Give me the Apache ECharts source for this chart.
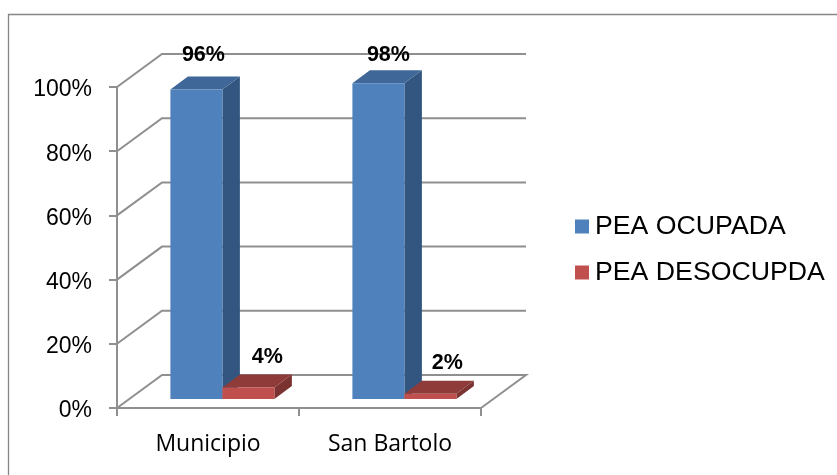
<!DOCTYPE html>
<html>
<head>
<meta charset="utf-8">
<style>html,body{margin:0;padding:0;background:#fff}#c{width:837px;height:475px}</style>
<script src="https://cdn.jsdelivr.net/npm/echarts@6/dist/echarts.min.js"></script>
</head>
<body>
<div id="c"></div>
<script>
const categories = ['Municipio', 'San Bartolo'];
const ocupada = [96.4, 98.4];
const desocupada = [3.6, 1.6];
const yTicks = [0, 20, 40, 60, 80, 100];

const WALL = { dx: 45, dy: -33 };
const BASE = { dx: 14.4, dy: -9 };
const DEPTH = { dx: 17.5, dy: -13 };
const BAR_W = 52;
const GRID_COLOR = '#8f8f8f';
const LABEL_NUDGE = { ocupada: [[7, -34.5], [10, -28]], desocupada: [[19, -30], [17, -31]] };

function wallItem(params, api) {
  const v = api.value(1);
  const p = api.coord([0, v]);
  const cs = params.coordSys;
  const x0 = cs.x, y = p[1];
  const bx = x0 + WALL.dx, by = y + WALL.dy;
  const farX = x0 + cs.width + WALL.dx;
  const style = { stroke: GRID_COLOR, fill: null, lineWidth: 2 };
  const pts = [[x0, y], [bx, by], [farX, by]];
  if (v === 0) pts.push([x0 + cs.width, y]);
  return { type: 'polyline', shape: { points: pts }, style };
}

function barRender(side, colors, key) {
  return function (params, api) {
    const i = api.value(0), v = api.value(1);
    const top = api.coord([i, v]);
    const bot = api.coord([i, 0]);
    const xl = top[0] + BASE.dx + (side === 0 ? -BAR_W : 0);
    const xr = xl + BAR_W;
    const yt = top[1] + BASE.dy;
    const yb = bot[1] + BASE.dy;
    const d = DEPTH;
    const n = LABEL_NUDGE[key][i];
    return {
      type: 'group',
      children: [
        { type: 'polygon', shape: { points: [[xr, yt], [xr + d.dx, yt + d.dy], [xr + d.dx, yb + d.dy], [xr, yb]] }, style: { fill: colors.side } },
        { type: 'polygon', shape: { points: [[xl, yt], [xr, yt], [xr + d.dx, yt + d.dy], [xl + d.dx, yt + d.dy]] }, style: { fill: colors.top } },
        { type: 'rect', shape: { x: xl, y: yt, width: BAR_W, height: yb - yt }, style: { fill: colors.front } },
        { type: 'text', z2: 50, style: {
            text: Math.round(v) + '%', x: (xl + xr) / 2 + n[0], y: yt + n[1],
            align: 'center', verticalAlign: 'middle', fill: '#000',
            font: 'bold 21.5px "Liberation Sans", Arial, sans-serif' } }
      ]
    };
  };
}

const chart = echarts.init(document.getElementById('c'), null, { renderer: 'canvas' });
chart.setOption({
  animation: false,
  backgroundColor: '#ffffff',
  grid: { left: 117, top: 87, width: 364, height: 321, containLabel: false },
  graphic: [{
    type: 'polyline', silent: true, z: -1,
    shape: { points: [[8.5, 475], [8.5, 14.5], [837, 14.5]] },
    style: { stroke: '#868686', fill: null, lineWidth: 1.3 }
  }],
  legend: {
    data: ['PEA OCUPADA', 'PEA DESOCUPDA'],
    orient: 'vertical', left: 575, top: 213, padding: 0,
    icon: 'rect', itemWidth: 14, itemHeight: 14, itemGap: 19,
    textStyle: { fontFamily: '"Liberation Sans", Arial, sans-serif', fontSize: 26.7, color: '#000', padding: [0, 0, 0, 1] }
  },
  xAxis: {
    type: 'category', data: categories,
    axisLine: { show: true, lineStyle: { color: GRID_COLOR, width: 2 } },
    axisTick: { show: true, alignWithLabel: false, length: 8, lineStyle: { color: GRID_COLOR, width: 2 } },
    axisLabel: { color: '#000', fontFamily: '"Open Sans", sans-serif', fontSize: 23, margin: 25 },
    splitLine: { show: false }
  },
  yAxis: {
    type: 'value', min: 0, max: 100, interval: 20,
    axisLine: { show: true, lineStyle: { color: GRID_COLOR, width: 2 } },
    axisTick: { show: true, length: 8, lineStyle: { color: GRID_COLOR, width: 2 } },
    axisLabel: { color: '#000', fontFamily: '"Liberation Sans", Arial, sans-serif', fontSize: 23, margin: 25, verticalAlign: 'top', lineHeight: 6, formatter: '{value}%' },
    splitLine: { show: false }
  },
  series: [
    { type: 'custom', name: 'wall', silent: true, z: 1, renderItem: wallItem,
      encode: { x: 0, y: 1 }, data: yTicks.map(v => [0, v]) },
    { type: 'custom', name: 'PEA OCUPADA', z: 2, silent: true, itemStyle: { color: '#4F81BD' },
      renderItem: barRender(0, { front: '#4F81BD', top: '#3F6797', side: '#335680' }, 'ocupada'),
      encode: { x: 0, y: 1 }, data: ocupada.map((v, i) => [i, v]) },
    { type: 'custom', name: 'PEA DESOCUPDA', z: 3, silent: true, itemStyle: { color: '#C0504D' },
      renderItem: barRender(1, { front: '#C0504D', top: '#8E3B39', side: '#7B3331' }, 'desocupada'),
      encode: { x: 0, y: 1 }, data: desocupada.map((v, i) => [i, v]) }
  ]
});
</script>
</body>
</html>
